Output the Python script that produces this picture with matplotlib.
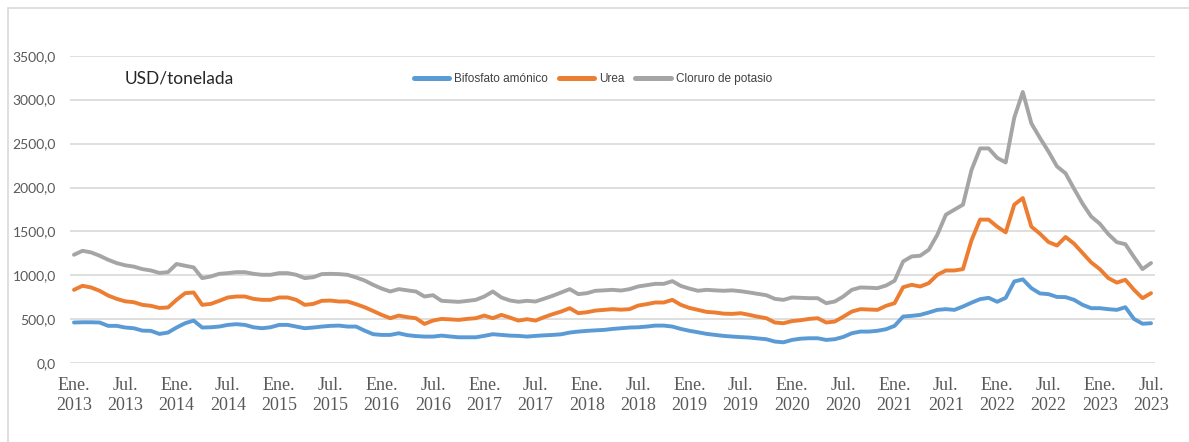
import numpy as np
import matplotlib
matplotlib.use('Agg')
import matplotlib.pyplot as plt
from matplotlib.patches import Rectangle

# ── datos (USD/tonelada, mensual Ene. 2013 - Jul. 2023) ──
anios = list(range(2013, 2024))
meses_txt = ['Ene.', 'Feb.', 'Mar.', 'Abr.', 'May.', 'Jun.',
             'Jul.', 'Ago.', 'Sep.', 'Oct.', 'Nov.', 'Dic.']
meses = [f'{m}\n{a}' for a in anios for m in meses_txt][:127]

bifosfato = [
    464, 467, 467, 464, 426, 426, 407, 399, 372, 369, 334, 350,
    407, 456, 486, 407, 410, 418, 437, 445, 437, 410, 399, 410,
    437, 437, 418, 399, 407, 418, 426, 429, 418, 418, 372, 331,
    323, 323, 342, 320, 310, 304, 304, 315, 305, 296, 296, 296,
    312, 331, 323, 315, 312, 304, 312, 318, 323, 330, 350, 361,
    369, 375, 380, 391, 399, 407, 410, 418, 429, 429, 418, 391,
    370, 353, 335, 323, 312, 304, 298, 293, 283, 274, 247, 239,
    266, 280, 285, 285, 266, 274, 300, 342, 361, 361, 370, 388,
    426, 532, 540, 551, 578, 608, 616, 608, 646, 690, 730, 745,
    700, 745, 931, 955, 855, 795, 787, 755, 753, 722, 665, 627,
    627, 616, 608, 638, 505, 450, 456,
]
urea = [
    836, 882, 863, 825, 771, 733, 705, 695, 665, 654, 630, 635,
    722, 798, 806, 665, 676, 711, 749, 760, 760, 733, 722, 722,
    749, 749, 722, 665, 676, 711, 714, 703, 703, 673, 638, 595,
    551, 513, 543, 525, 513, 448, 486, 505, 500, 494, 505, 513,
    543, 513, 551, 520, 486, 502, 486, 525, 559, 589, 627, 570,
    581, 600, 608, 616, 610, 616, 657, 673, 692, 692, 722, 665,
    630, 608, 585, 578, 565, 562, 570, 551, 530, 513, 464, 456,
    480, 490, 505, 513, 464, 475, 530, 589, 616, 612, 608, 654,
    684, 866, 893, 874, 912, 1007, 1056, 1056, 1072, 1400, 1635, 1635,
    1555, 1490, 1805, 1880, 1555, 1475, 1380, 1340, 1437, 1361, 1254, 1148,
    1072, 970, 918, 950, 837, 741, 798,
]
potasio = [
    1235, 1280, 1262, 1224, 1178, 1140, 1115, 1100, 1072, 1056, 1028, 1037,
    1130, 1110, 1091, 969, 988, 1018, 1026, 1037, 1037, 1018, 1007, 1007,
    1026, 1026, 1007, 969, 980, 1015, 1018, 1015, 1007, 977, 942, 893,
    850, 817, 844, 830, 817, 760, 775, 711, 705, 699, 710, 722,
    760, 817, 749, 715, 700, 711, 703, 735, 768, 806, 844, 787,
    798, 825, 830, 836, 828, 844, 874, 889, 904, 904, 935, 880,
    850, 825, 836, 830, 825, 830, 820, 806, 790, 775, 733, 722,
    749, 745, 741, 741, 684, 703, 760, 836, 863, 860, 855, 885,
    939, 1159, 1216, 1224, 1292, 1463, 1691, 1748, 1805, 2200, 2445, 2445,
    2338, 2285, 2795, 3087, 2730, 2565, 2410, 2240, 2162, 1985, 1815, 1670,
    1589, 1470, 1378, 1355, 1210, 1072, 1141,
]
series = [('Bifosfato amónico', bifosfato, '#5B9BD5'),
          ('Urea', urea, '#ED7D31'),
          ('Cloruro de potasio', potasio, '#A5A5A5')]

W, H = 1189, 442
fig = plt.figure(figsize=(W/100, H/100), dpi=100)
ax = fig.add_axes([69.7/W, 1-363.3/H, (1155.3-69.7)/W, (363.3-55.7)/H])

x = np.arange(len(meses))
for nombre, vals, col in series:
    ax.plot(x, vals, color=col, lw=2.8, label=nombre,
            solid_joinstyle='round', solid_capstyle='round')

ax.set_xlim(-0.5, len(meses)-0.5)
ax.set_ylim(0, 3500)
ax.set_yticks(np.arange(0, 3501, 500))
ax.set_yticklabels([f'{v:.1f}'.replace('.', ',') for v in np.arange(0, 3501, 500)],
                   fontfamily='Lato', fontsize=10, color='#595959')
ax.set_xticks(x[::6])
ax.set_xticklabels([meses[i] for i in x[::6]], fontfamily='Liberation Serif',
                   fontsize=13, color='#595959', linespacing=1.25)
ax.tick_params(axis='both', length=0)
ax.tick_params(axis='y', pad=10)
ax.tick_params(axis='x', pad=10)
ax.grid(axis='y', color='#d9d9d9', lw=1.2)
ax.set_axisbelow(True)
for s in ax.spines.values():
    s.set_visible(False)

fig.text(125/W, 1-79/H, 'USD/tonelada', fontfamily='Lato', fontsize=12.5,
         color='#262626', va='center', ha='left')

leg = ax.legend(loc='center', bbox_to_anchor=(593/W, 1-79/H),
                bbox_transform=fig.transFigure, ncol=3, frameon=False,
                prop={'family': 'Liberation Sans', 'size': 8.5},
                handlelength=3.0, handletextpad=0.45, columnspacing=0.9)
for t in leg.get_texts():
    t.set_color('#404040')
for h in leg.get_lines():
    h.set_linewidth(3.6)

# borde del área del gráfico
fig.patches.append(Rectangle((8/W, -0.1), 1.1, 1.1-8/H, transform=fig.transFigure,
                             fill=False, ec='#d9d9d9', lw=1.2, figure=fig))

fig.savefig('out.png', dpi=100)
